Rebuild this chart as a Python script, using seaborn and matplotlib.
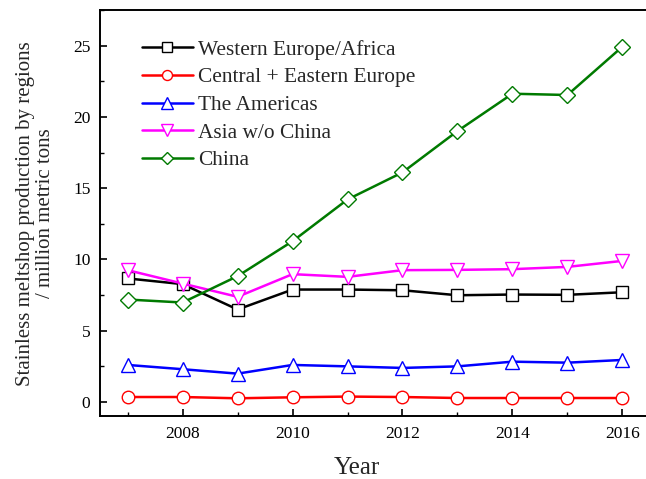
import matplotlib
matplotlib.use("Agg")
import matplotlib.pyplot as plt
from matplotlib.ticker import MultipleLocator
import seaborn as sns
import pandas as pd

years = [2007, 2008, 2009, 2010, 2011, 2012, 2013, 2014, 2015, 2016]

western_europe_africa = [8.67, 8.27, 6.49, 7.89, 7.89, 7.84, 7.49, 7.54, 7.52, 7.70]
central_eastern_europe = [0.35, 0.35, 0.26, 0.33, 0.38, 0.35, 0.28, 0.28, 0.28, 0.28]
the_americas = [2.60, 2.30, 1.99, 2.60, 2.50, 2.39, 2.50, 2.83, 2.76, 2.95]
asia_without_china = [9.25, 8.31, 7.38, 8.97, 8.78, 9.25, 9.27, 9.32, 9.48, 9.90]
china = [7.19, 6.98, 8.83, 11.28, 14.21, 16.11, 19.01, 21.63, 21.54, 24.93]

series_names = ["Western Europe/Africa", "Central + Eastern Europe", "The Americas",
                "Asia w/o China", "China"]
series_values = [western_europe_africa, central_eastern_europe, the_americas,
                 asia_without_china, china]
series_colors = ["black", "#ff0000", "#0000ff", "#ff00ff", "#007a00"]
series_markers = ["s", "o", "^", "v", "D"]
series_sizes = [8.2, 9, 10.5, 10.5, 8]

sns.set_theme(style="ticks")
plt.rcParams["font.family"] = ["Liberation Serif", "DejaVu Serif"]
plt.rcParams["xtick.direction"] = "in"
plt.rcParams["ytick.direction"] = "in"

fig = plt.figure(figsize=(6.46, 4.79), dpi=100)
ax = fig.add_axes([0.155, 0.131, 0.851, 0.848])

for name, vals, col, mk, ms in zip(series_names, series_values, series_colors,
                                   series_markers, series_sizes):
    df = pd.DataFrame({"Year": years, "Value": vals})
    sns.lineplot(data=df, x="Year", y="Value", ax=ax, color=col, marker=mk,
                 markersize=ms, markerfacecolor="white", markeredgecolor=col,
                 markeredgewidth=1.0, linewidth=1.8, label=name)

ax.set_xlim(2006.5, 2016.5)
ax.set_ylim(-1.0, 27.5)
ax.xaxis.set_major_locator(MultipleLocator(2))
ax.xaxis.set_minor_locator(MultipleLocator(1))
ax.yaxis.set_major_locator(MultipleLocator(5))
ax.yaxis.set_minor_locator(MultipleLocator(2.5))
ax.tick_params(which="major", length=5, width=1.2, labelsize=12.5, colors="black")
ax.tick_params(which="minor", length=3, width=1.0, colors="black")
ax.tick_params(axis="x", which="both", top=False, pad=7)
ax.tick_params(axis="y", which="both", right=False, pad=7)

for side in ["left", "bottom", "top"]:
    ax.spines[side].set_linewidth(1.4)
    ax.spines[side].set_color("black")
ax.spines["right"].set_visible(False)

ax.set_xlabel("Year", fontsize=18)
ax.xaxis.set_label_coords(0.467, -0.1)
ax.set_ylabel("Stainless meltshop production by regions\n/ million metric tons",
              fontsize=15, linespacing=1.05)
ax.yaxis.set_label_coords(-0.082, 0.5)

leg = ax.legend(loc="upper left", frameon=False, fontsize=15.4,
                bbox_to_anchor=(0.06, 0.948), handlelength=2.4,
                handletextpad=0.25, labelspacing=0.36, borderaxespad=0,
                markerscale=0.8)

fig.savefig("out.png", dpi=100, facecolor="white")
